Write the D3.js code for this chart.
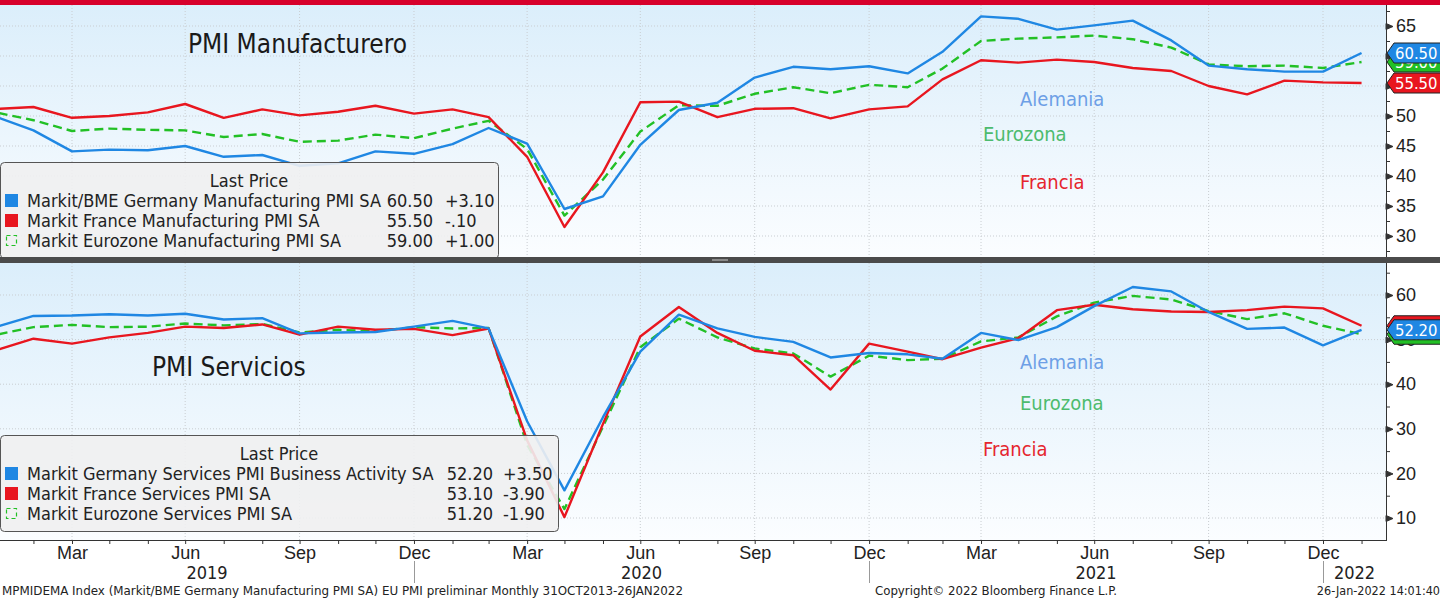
<!DOCTYPE html>
<html>
<head>
<meta charset="utf-8">
<script src="https://d3js.org/d3.v7.min.js"></script>
<style>
  body { margin: 0; background: #fff; }
  svg { display: block; font-family: "DejaVu Sans Condensed", "DejaVu Sans", sans-serif; }
  .grid { stroke: #c9cdd1; stroke-dasharray: 1,2; stroke-width: 1; }
  .axis path, .axis line { stroke: #333; }
  .axis text { fill: #222; }
</style>
</head>
<body>
<script>
// monthly data, Jan 2019 .. Jan 2022
var months = ["2019-01","2019-02","2019-03","2019-04","2019-05","2019-06","2019-07","2019-08","2019-09","2019-10","2019-11","2019-12",
              "2020-01","2020-02","2020-03","2020-04","2020-05","2020-06","2020-07","2020-08","2020-09","2020-10","2020-11","2020-12",
              "2021-01","2021-02","2021-03","2021-04","2021-05","2021-06","2021-07","2021-08","2021-09","2021-10","2021-11","2021-12",
              "2022-01"];

var deMfg = [49.7,47.6,44.1,44.4,44.3,45.0,43.2,43.5,41.7,42.1,44.1,43.7, 45.3,48.0,45.4,34.5,36.6,45.2,51.0,52.2,56.4,58.2,57.8,58.3, 57.1,60.7,66.6,66.2,64.4,65.1,65.9,62.6,58.4,57.8,57.4,57.4, 60.5];
var frMfg = [51.2,51.5,49.7,50.0,50.6,52.0,49.7,51.1,50.1,50.7,51.7,50.4, 51.1,49.8,43.2,31.5,40.6,52.3,52.4,49.8,51.2,51.3,49.6,51.1, 51.6,56.1,59.3,58.9,59.4,59.0,58.0,57.5,55.0,53.6,55.9,55.6, 55.5];
var ezMfg = [50.5,49.3,47.5,47.9,47.7,47.6,46.5,47.0,45.7,45.9,46.9,46.3, 47.9,49.2,44.5,33.4,39.4,47.4,51.8,51.7,53.7,54.8,53.8,55.2, 54.8,57.9,62.5,62.9,63.1,63.4,62.8,61.4,58.6,58.3,58.4,58.0, 59.0];

var deSvc = [53.0,55.3,55.4,55.7,55.4,55.8,54.5,54.8,51.4,51.6,51.7,52.9, 54.2,52.5,31.7,16.2,32.6,47.3,55.6,52.5,50.6,49.5,46.0,47.0, 46.7,45.7,51.5,49.9,52.8,57.5,61.8,60.8,56.2,52.4,52.7,48.7, 52.2];
var frSvc = [47.8,50.2,49.1,50.5,51.5,52.9,52.6,53.4,51.1,52.9,52.2,52.4, 51.0,52.5,27.4,10.2,31.1,50.7,57.3,51.5,47.5,46.5,38.8,49.1, 47.3,45.6,48.2,50.3,56.6,57.8,56.8,56.3,56.2,56.6,57.4,57.0, 53.1];
var ezSvc = [51.2,52.8,53.3,52.8,52.9,53.6,53.2,53.5,51.6,52.2,51.9,52.8, 52.5,52.6,26.4,12.0,30.5,48.3,54.7,50.5,48.0,46.9,41.7,46.4, 45.4,45.7,49.6,50.5,55.2,58.3,59.8,59.0,56.4,54.6,55.9,53.1, 51.2];

var mfgTicks = [30,35,40,45,50,55,60,65];
var svcTicks = [10,20,30,40,50,60];

var mfgLegend = ["Markit/BME Germany Manufacturing PMI SA","Markit France Manufacturing PMI SA","Markit Eurozone Manufacturing PMI SA"];
var mfgLast = ["60.50","55.50","59.00"];
var mfgChg = ["+3.10","-.10","+1.00"];
var svcLegend = ["Markit Germany Services PMI Business Activity SA","Markit France Services PMI SA","Markit Eurozone Services PMI SA"];
var svcLast = ["52.20","53.10","51.20"];
var svcChg = ["+3.50","-3.90","-1.90"];

var colors = {de: "#1f87e3", fr: "#e8161f", ez: "#22c025"};

var W = 1440, H = 601, axisX = 1386;
var svg = d3.select("body").append("svg").attr("width", W).attr("height", H);

var parse = function (s) { var p = s.split("-"); return new Date(+p[0], +p[1], 0); }; // month end
var dates = months.map(parse);

var x = d3.scaleTime()
    .domain([new Date(2019, 2, 31), new Date(2021, 11, 31)])
    .range([72, 1323]);

var defs = svg.append("defs");
var grad = defs.append("linearGradient").attr("id", "bg").attr("x1", 0).attr("y1", 0).attr("x2", 0).attr("y2", 1);
grad.append("stop").attr("offset", "0%").attr("stop-color", "#dbeefb");
grad.append("stop").attr("offset", "100%").attr("stop-color", "#fbfdff");

var panels = [
  {id: "mfg", top: 5, bottom: 257, y: d3.scaleLinear().domain([30, 65]).range([236, 26]),
   ticks: mfgTicks, minor: d3.range(27.5, 67.6, 2.5), title: "PMI Manufacturero", titleX: 188, titleY: 53,
   series: [{k: "ez", v: ezMfg}, {k: "fr", v: frMfg}, {k: "de", v: deMfg}],
   tags: [{k: "ez", v: 59.0}, {k: "fr", v: 55.5}, {k: "de", v: 60.5}],
   notes: [["Alemania", "#6d9fe6", 1020, 106], ["Eurozona", "#4dbb6e", 983, 141], ["Francia", "#e5262e", 1020, 189]],
   legend: {x: 0, y: 162, w: 498, names: mfgLegend, last: mfgLast, chg: mfgChg, valX: 433, chgX: 445}},
  {id: "svc", top: 263, bottom: 540, y: d3.scaleLinear().domain([10, 60]).range([518, 295]),
   ticks: svcTicks, minor: d3.range(5, 66, 5), title: "PMI Servicios", titleX: 152, titleY: 376,
   series: [{k: "ez", v: ezSvc}, {k: "fr", v: frSvc}, {k: "de", v: deSvc}],
   tags: [{k: "ez", v: 51.2}, {k: "fr", v: 53.1}, {k: "de", v: 52.2}],
   notes: [["Alemania", "#6d9fe6", 1020, 369], ["Eurozona", "#4dbb6e", 1020, 410], ["Francia", "#e5262e", 983, 456]],
   legend: {x: 0, y: 435, w: 558, names: svcLegend, last: svcLast, chg: svcChg, valX: 493, chgX: 503}}
];

var quarterDates = dates.filter(function (d) { return d.getMonth() % 3 === 2; });

panels.forEach(function (p) {
  var g = svg.append("g");
  g.append("rect").attr("x", 0).attr("y", p.top).attr("width", axisX).attr("height", p.bottom - p.top).attr("fill", "url(#bg)");

  defs.append("clipPath").attr("id", "clip-" + p.id)
    .append("rect").attr("x", 0).attr("y", p.top).attr("width", axisX).attr("height", p.bottom - p.top);

  // gridlines
  g.selectAll(".hg").data(p.ticks).enter().append("line").attr("class", "grid")
    .attr("x1", 0).attr("x2", axisX).attr("y1", function (d) { return p.y(d); }).attr("y2", function (d) { return p.y(d); });
  g.selectAll(".vg").data(quarterDates).enter().append("line").attr("class", "grid")
    .attr("x1", function (d) { return x(d); }).attr("x2", function (d) { return x(d); })
    .attr("y1", p.top).attr("y2", p.bottom);

  g.append("text").attr("x", p.titleX).attr("y", p.titleY).attr("font-size", 26).attr("fill", "#1a1a1a").text(p.title);

  p.notes.forEach(function (n) {
    g.append("text").attr("x", n[2]).attr("y", n[3]).attr("font-size", 20).attr("fill", n[1]).text(n[0]);
  });

  var line = d3.line().x(function (d, i) { return x(dates[i]); }).y(function (d) { return p.y(d); });
  var lg = g.append("g").attr("clip-path", "url(#clip-" + p.id + ")");
  p.series.forEach(function (s) {
    lg.append("path").attr("d", line(s.v)).attr("fill", "none")
      .attr("stroke", colors[s.k]).attr("stroke-width", 2.4)
      .attr("stroke-linejoin", "round")
      .attr("stroke-dasharray", s.k === "ez" ? "9,5" : null);
  });

  // legend box
  var L = p.legend;
  var lb = g.append("g");
  lb.append("rect").attr("x", L.x + 0.5).attr("y", L.y + 0.5).attr("width", L.w).attr("height", 96).attr("rx", 4)
    .attr("fill", "rgba(239,240,241,0.9)").attr("stroke", "#555");
  lb.append("text").attr("x", L.x + L.w / 2).attr("y", L.y + 25).attr("text-anchor", "middle")
    .attr("font-size", 18).attr("fill", "#222").text("Last Price");
  var keys = ["de", "fr", "ez"];
  L.names.forEach(function (name, i) {
    var by = L.y + 45 + i * 20;
    if (keys[i] === "ez") {
      lb.append("rect").attr("x", 6.5).attr("y", by - 11.5).attr("width", 10).attr("height", 10)
        .attr("fill", "none").attr("stroke", colors.ez).attr("stroke-width", 1.2).attr("stroke-dasharray", "4,3");
    } else {
      lb.append("rect").attr("x", 5).attr("y", by - 13).attr("width", 13).attr("height", 13).attr("fill", colors[keys[i]]);
    }
    lb.append("text").attr("x", 27).attr("y", by).attr("font-size", 18).attr("fill", "#222").text(name);
    lb.append("text").attr("x", L.valX).attr("y", by).attr("font-size", 18).attr("fill", "#222").attr("text-anchor", "end").text(L.last[i]);
    lb.append("text").attr("x", L.chgX).attr("y", by).attr("font-size", 18).attr("fill", "#222").text(L.chg[i]);
  });

  // right axis
  var ax = g.append("g").attr("class", "axis").attr("transform", "translate(" + axisX + ",0)")
    .call(d3.axisRight(p.y).tickValues(p.ticks).tickSize(0).tickPadding(10).tickFormat(d3.format("d")));
  ax.select(".domain").remove();
  ax.selectAll("text").attr("font-size", 18).attr("font-family", null);
  ax.selectAll(".tick").append("path").attr("d", "M0,-3L7,0L0,3Z").attr("fill", "#333");
  var mn = g.append("g").attr("class", "axis").attr("transform", "translate(" + axisX + ",0)")
    .call(d3.axisRight(p.y).tickValues(p.minor.filter(function (v) {
      return p.ticks.indexOf(v) < 0 && p.y(v) > p.top && p.y(v) < p.bottom; })).tickSize(4).tickFormat(""));
  mn.select(".domain").remove();

  // last-value tags
  p.tags.forEach(function (t) {
    var ty = p.y(t.v);
    var tg = svg.append("g");
    tg.append("path").attr("d", "M" + (axisX + 1) + "," + ty + "L" + (axisX + 8) + "," + (ty - 10) + "L1446," + (ty - 10) + "L1446," + (ty + 10) + "L" + (axisX + 8) + "," + (ty + 10) + "Z")
      .attr("fill", colors[t.k]).attr("stroke", "#222").attr("stroke-width", 1);
    tg.append("text").attr("x", axisX + 9).attr("y", ty + 6).attr("font-size", 16.5).attr("fill", "#fff").text(d3.format(".2f")(t.v));
  });
});

// vertical axis line
svg.append("line").attr("x1", axisX + 0.5).attr("x2", axisX + 0.5).attr("y1", 5).attr("y2", 541).attr("stroke", "#333");

// divider between panels and top bar
svg.append("rect").attr("x", 0).attr("y", 257).attr("width", W).attr("height", 6).attr("fill", "#4b4b4b");
svg.append("rect").attr("x", 712).attr("y", 259).attr("width", 16).attr("height", 2).attr("fill", "#8a8a8a");
svg.append("rect").attr("x", 0).attr("y", 0).attr("width", W).attr("height", 5).attr("fill", "#d7002b");

// bottom time axis
var monthTicks = dates.filter(function (d) { return x(d) > 0 && x(d) < axisX; });
var xa = svg.append("g").attr("class", "axis").attr("transform", "translate(0,540)")
  .call(d3.axisBottom(x).tickValues(monthTicks).tickSize(4).tickPadding(2)
    .tickFormat(function (d) { return d.getMonth() % 3 === 2 ? d3.timeFormat("%b")(d) : ""; }));
xa.select(".domain").attr("d", "M0,0.5H" + axisX);
xa.selectAll("text").attr("font-size", 18).attr("font-family", null);

var years = [2019, 2020, 2021, 2022];
years.forEach(function (yr) {
  var a = Math.max(0, x(new Date(yr - 1, 11, 31))), b = Math.min(axisX, x(new Date(yr, 11, 31)));
  svg.append("text").attr("x", (a + b) / 2).attr("y", 579).attr("text-anchor", "middle")
    .attr("font-size", 18).attr("fill", "#222").text(yr);
  if (yr > 2019) {
    svg.append("line").attr("x1", Math.round(a) + 0.5).attr("x2", Math.round(a) + 0.5).attr("y1", 561).attr("y2", 583)
      .attr("stroke", "#999");
  }
});

// footer
svg.append("text").attr("x", 2).attr("y", 595).attr("font-size", 12.5).attr("fill", "#222")
  .attr("textLength", 681).attr("lengthAdjust", "spacingAndGlyphs")
  .text("MPMIDEMA Index (Markit/BME Germany Manufacturing PMI SA) EU PMI preliminar  Monthly 31OCT2013-26JAN2022");
svg.append("text").attr("x", 875).attr("y", 595).attr("font-size", 12.5).attr("fill", "#222")
  .attr("textLength", 242).attr("lengthAdjust", "spacingAndGlyphs")
  .text("Copyright\u00a9 2022 Bloomberg Finance L.P.");
svg.append("text").attr("x", 1440).attr("y", 595).attr("font-size", 12.5).attr("fill", "#222").attr("text-anchor", "end")
  .text("26-Jan-2022 14:01:40");
</script>
</body>
</html>
